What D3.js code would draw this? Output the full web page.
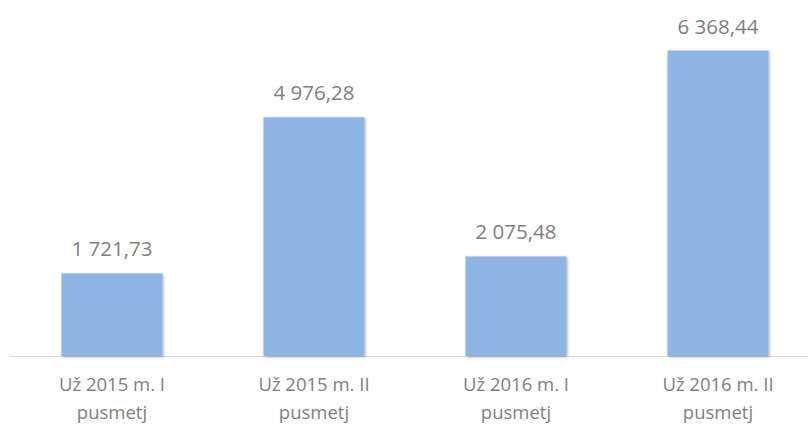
<!DOCTYPE html>
<html>
<head>
<meta charset="utf-8">
<script src="https://cdn.jsdelivr.net/npm/d3@7"></script>
<style>
  body { margin: 0; background: #fff; }
  text { font-family: "Open Sans", "Noto Sans", sans-serif; fill: #7f7f7f; }
</style>
</head>
<body>
<div id="chart"></div>
<script>
// chart values
const categories = ["Už 2015 m. I pusmetj", "Už 2015 m. II pusmetj", "Už 2016 m. I pusmetj", "Už 2016 m. II pusmetj"];
const values = [1721.73, 4976.28, 2075.48, 6368.44];

const width = 808, height = 428;
const baseY = 356, topY = 50.5;

const svg = d3.select("#chart").append("svg")
    .attr("width", width)
    .attr("height", height);

const defs = svg.append("defs");
const f = defs.append("filter").attr("id", "shadow")
    .attr("x", "-10%").attr("y", "-10%").attr("width", "130%").attr("height", "130%");
f.append("feDropShadow").attr("dx", 1).attr("dy", 1).attr("stdDeviation", 1.5)
    .attr("flood-color", "#000").attr("flood-opacity", 0.3);

const x = d3.scaleBand()
    .domain(categories)
    .range([11, 819])
    .paddingInner(0.5)
    .paddingOuter(0.25);

const y = d3.scaleLinear()
    .domain([0, 6368.44])
    .range([baseY, topY]);

// axis line
svg.append("line")
    .attr("x1", 10).attr("x2", width)
    .attr("y1", baseY + 0.5).attr("y2", baseY + 0.5)
    .attr("stroke", "#d9d9d9").attr("stroke-width", 1);

const fmt = v => d3.format(",.2f")(v).replace(/,/g, " ").replace(".", ",");

svg.selectAll("rect.bar")
    .data(values)
    .enter().append("rect")
    .attr("class", "bar")
    .attr("x", (d, i) => x(categories[i]))
    .attr("width", x.bandwidth())
    .attr("y", d => y(d))
    .attr("height", d => baseY - y(d))
    .attr("fill", "#8eb4e3")
    .attr("filter", "url(#shadow)");

svg.selectAll("text.val")
    .data(values)
    .enter().append("text")
    .attr("class", "val")
    .attr("x", (d, i) => x(categories[i]) + x.bandwidth() / 2)
    .attr("y", d => y(d) - 17)
    .attr("text-anchor", "middle")
    .style("font-size", "20.5px")
    .text(d => fmt(d));

// category labels, two lines
const lab = svg.selectAll("text.cat")
    .data(categories)
    .enter().append("text")
    .attr("class", "cat")
    .attr("text-anchor", "middle")
    .style("font-size", "18.5px");

lab.each(function(d) {
    const cx = x(d) + x.bandwidth() / 2;
    const idx = d.lastIndexOf(" ");
    const t = d3.select(this);
    t.append("tspan").attr("x", cx).attr("y", 391).text(d.slice(0, idx));
    t.append("tspan").attr("x", cx).attr("y", 419).text(d.slice(idx + 1));
});
</script>
</body>
</html>
